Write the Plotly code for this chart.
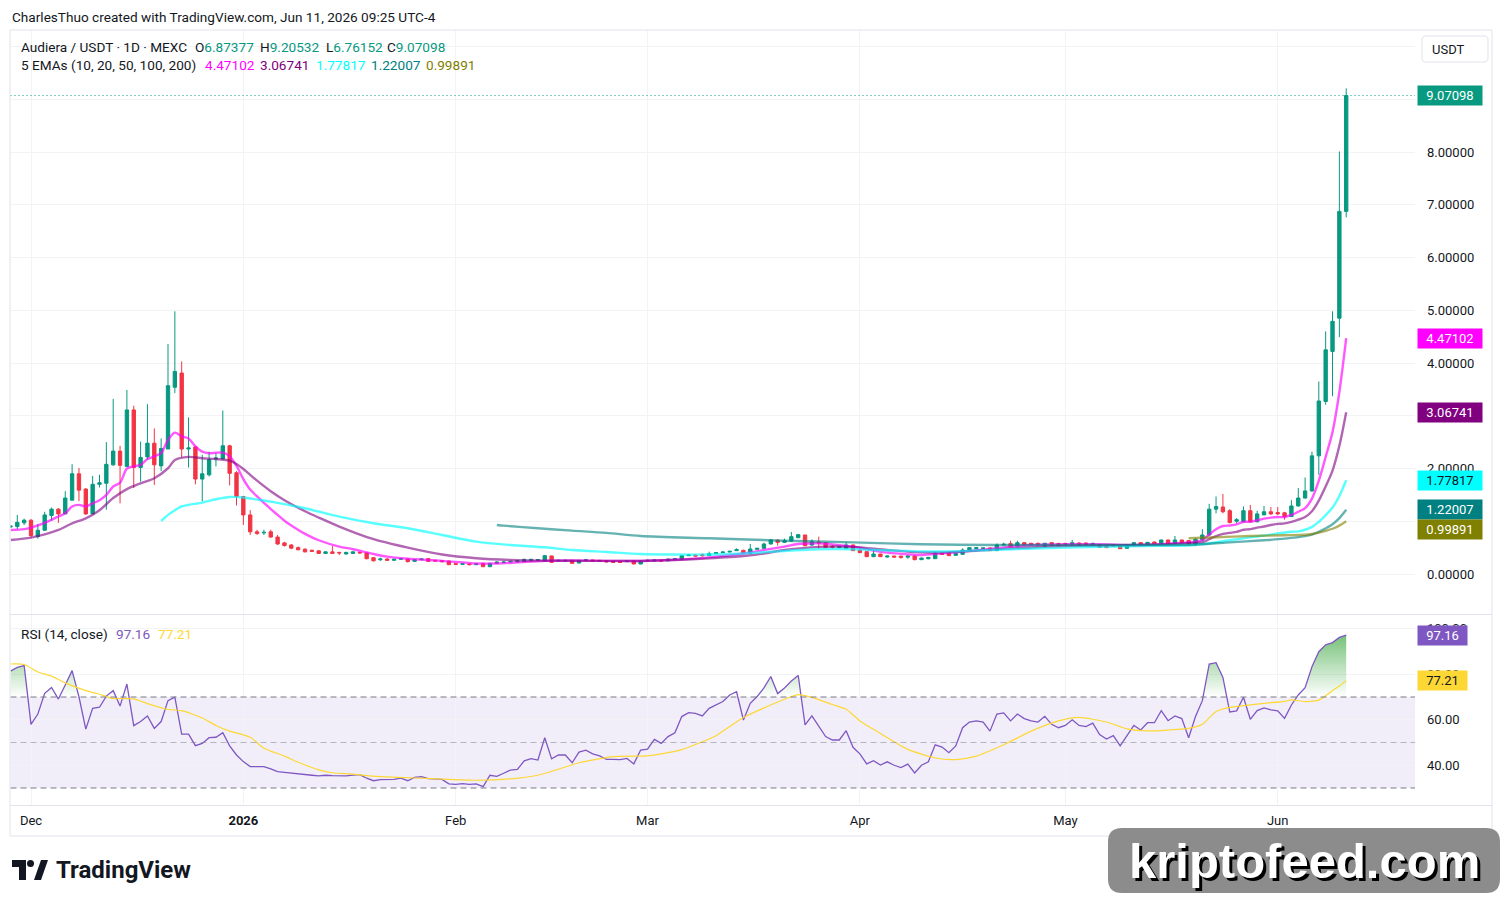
import pandas as pd
import plotly.graph_objects as go

W, H = 1504, 904

# ---------------------------------------------------------------- data
dates = pd.date_range("2025-11-28", "2026-06-11", freq="D")

opens = [
    0.89, 0.90, 0.97,
    1.02, 0.71, 0.83, 1.11, 1.23, 1.14, 1.40, 1.90, 1.61, 1.14, 1.70, 1.72, 2.07, 2.33, 2.04, 3.11,
    2.02, 2.22, 2.48, 2.05, 2.37, 3.54, 3.81, 2.37, 2.41, 1.80, 1.88, 2.18, 2.18, 2.43, 1.92,
    1.47, 1.12, 0.80, 0.78, 0.80, 0.70, 0.59, 0.55, 0.50, 0.47, 0.45, 0.44, 0.39, 0.42, 0.41, 0.38,
    0.39, 0.41, 0.40, 0.31, 0.27, 0.285, 0.26, 0.28, 0.285, 0.24, 0.272, 0.291, 0.259, 0.253, 0.247,
    0.196, 0.183, 0.19, 0.177, 0.202, 0.139, 0.202, 0.215, 0.228, 0.228, 0.234, 0.253, 0.26, 0.24,
    0.342, 0.247, 0.247, 0.259, 0.209, 0.259, 0.266, 0.259, 0.253, 0.24, 0.234, 0.234, 0.247, 0.19,
    0.25, 0.247, 0.259, 0.25, 0.28, 0.278, 0.348, 0.36, 0.367, 0.35, 0.386, 0.405, 0.417, 0.443, 0.449,
    0.392, 0.468, 0.487, 0.569, 0.64, 0.60, 0.626, 0.689, 0.74, 0.55, 0.607, 0.594, 0.525, 0.50, 0.487, 0.55,
    0.455, 0.424, 0.329, 0.379, 0.322, 0.341, 0.34, 0.32, 0.341, 0.272, 0.29, 0.291, 0.392, 0.405, 0.354,
    0.373, 0.436, 0.48, 0.48, 0.494, 0.443, 0.55, 0.575, 0.531, 0.594, 0.582, 0.58, 0.531, 0.594, 0.58,
    0.58, 0.556, 0.588, 0.588, 0.556, 0.556, 0.544, 0.56, 0.544, 0.487, 0.544, 0.594, 0.563, 0.607, 0.582,
    0.645, 0.582, 0.645, 0.633, 0.57, 0.645, 0.74, 1.23, 1.27, 1.20, 1.00, 0.99, 1.20, 0.99, 1.12, 1.18,
    1.165, 1.16, 1.09, 1.29, 1.44, 1.575, 2.24, 3.27, 4.22, 4.85, 6.87377,
]
highs = [
    0.92, 1.12, 1.05,
    1.04, 0.95, 1.18, 1.26, 1.25, 1.57, 2.08, 2.01, 1.63, 1.86, 1.88, 2.50, 3.32, 2.43, 3.49, 3.19,
    2.51, 3.22, 2.76, 2.57, 4.36, 4.98, 4.03, 2.97, 2.41, 2.26, 2.32, 2.29, 3.10, 2.45, 1.95,
    1.47, 1.21, 0.84, 0.84, 0.84, 0.74, 0.61, 0.57, 0.52, 0.49, 0.46, 0.45, 0.43, 0.53, 0.42, 0.42,
    0.43, 0.42, 0.41, 0.32, 0.31, 0.30, 0.29, 0.30, 0.30, 0.28, 0.29, 0.30, 0.27, 0.26, 0.25,
    0.21, 0.20, 0.20, 0.20, 0.21, 0.21, 0.24, 0.24, 0.25, 0.26, 0.29, 0.29, 0.28, 0.36,
    0.35, 0.27, 0.27, 0.265, 0.265, 0.28, 0.27, 0.265, 0.26, 0.25, 0.24, 0.255, 0.255, 0.255,
    0.27, 0.27, 0.27, 0.29, 0.30, 0.36, 0.37, 0.365, 0.39, 0.424, 0.41, 0.42, 0.44, 0.487, 0.46,
    0.569, 0.49, 0.594, 0.664, 0.658, 0.67, 0.797, 0.76, 0.74, 0.658, 0.708, 0.594, 0.55, 0.53, 0.60, 0.56,
    0.46, 0.43, 0.455, 0.385, 0.35, 0.345, 0.345, 0.345, 0.345, 0.31, 0.32, 0.424, 0.42, 0.41, 0.40,
    0.487, 0.51, 0.51, 0.50, 0.50, 0.58, 0.594, 0.632, 0.632, 0.60, 0.59, 0.60, 0.59, 0.60, 0.59,
    0.59, 0.645, 0.60, 0.595, 0.59, 0.565, 0.55, 0.565, 0.55, 0.55, 0.60, 0.60, 0.61, 0.615, 0.65,
    0.65, 0.72, 0.65, 0.64, 0.68, 0.85, 1.33, 1.47, 1.52, 1.23, 1.06, 1.28, 1.31, 1.20, 1.29, 1.27,
    1.27, 1.18, 1.40, 1.63, 1.83, 2.32, 3.65, 4.60, 4.98, 8.01, 9.20532,
]
lows = [
    0.87, 0.85, 0.93,
    0.69, 0.67, 0.82, 1.01, 0.97, 1.14, 1.40, 1.38, 1.12, 1.14, 1.64, 1.22, 2.05, 1.34, 2.04, 1.63,
    1.75, 2.17, 1.69, 1.95, 2.37, 3.43, 2.21, 2.02, 1.70, 1.38, 1.85, 2.04, 2.18, 1.68, 1.30,
    0.93, 0.74, 0.74, 0.74, 0.69, 0.55, 0.52, 0.47, 0.45, 0.41, 0.42, 0.38, 0.38, 0.38, 0.36, 0.37,
    0.38, 0.39, 0.28, 0.24, 0.25, 0.25, 0.25, 0.27, 0.22, 0.23, 0.26, 0.23, 0.24, 0.22, 0.17,
    0.18, 0.17, 0.17, 0.17, 0.13, 0.13, 0.20, 0.21, 0.22, 0.22, 0.23, 0.25, 0.25, 0.24,
    0.21, 0.24, 0.24, 0.20, 0.20, 0.25, 0.24, 0.24, 0.22, 0.215, 0.215, 0.23, 0.185, 0.185,
    0.24, 0.24, 0.24, 0.245, 0.27, 0.275, 0.34, 0.335, 0.33, 0.34, 0.38, 0.40, 0.41, 0.44, 0.39,
    0.39, 0.46, 0.47, 0.56, 0.537, 0.59, 0.61, 0.68, 0.53, 0.537, 0.487, 0.487, 0.48, 0.49, 0.47, 0.44,
    0.40, 0.32, 0.32, 0.32, 0.31, 0.31, 0.29, 0.29, 0.26, 0.265, 0.28, 0.29, 0.37, 0.34, 0.35,
    0.36, 0.43, 0.47, 0.47, 0.44, 0.44, 0.54, 0.515, 0.52, 0.55, 0.55, 0.52, 0.52, 0.54, 0.53,
    0.56, 0.55, 0.545, 0.56, 0.55, 0.50, 0.495, 0.52, 0.475, 0.48, 0.54, 0.555, 0.555, 0.57, 0.575,
    0.57, 0.575, 0.59, 0.56, 0.53, 0.63, 0.72, 1.15, 1.15, 0.96, 0.96, 0.98, 0.98, 0.98, 1.12, 1.12,
    1.12, 1.03, 1.09, 1.28, 1.43, 1.56, 1.88, 3.21, 3.37, 4.49, 6.76152,
]
closes = [
    0.91, 0.98, 1.02,
    0.73, 0.83, 1.12, 1.23, 1.14, 1.44, 1.90, 1.59, 1.14, 1.70, 1.73, 2.08, 2.33, 2.06, 3.11, 2.02,
    2.21, 2.48, 2.07, 2.38, 3.57, 3.84, 2.37, 2.39, 1.80, 1.90, 2.17, 2.20, 2.43, 1.91, 1.47,
    1.12, 0.80, 0.77, 0.79, 0.70, 0.57, 0.54, 0.49, 0.46, 0.42, 0.43, 0.39, 0.42, 0.39, 0.40, 0.41,
    0.42, 0.40, 0.29, 0.25, 0.285, 0.26, 0.28, 0.29, 0.234, 0.272, 0.285, 0.24, 0.247, 0.234, 0.177,
    0.183, 0.196, 0.177, 0.19, 0.139, 0.202, 0.228, 0.228, 0.24, 0.253, 0.278, 0.278, 0.272, 0.348,
    0.221, 0.259, 0.259, 0.202, 0.259, 0.272, 0.247, 0.247, 0.228, 0.221, 0.221, 0.247, 0.19, 0.247,
    0.26, 0.266, 0.247, 0.284, 0.29, 0.348, 0.36, 0.34, 0.348, 0.386, 0.405, 0.417, 0.43, 0.462, 0.392,
    0.474, 0.487, 0.569, 0.645, 0.60, 0.632, 0.708, 0.746, 0.537, 0.613, 0.588, 0.506, 0.506, 0.519, 0.55, 0.443,
    0.405, 0.329, 0.379, 0.329, 0.341, 0.322, 0.316, 0.34, 0.272, 0.303, 0.316, 0.392, 0.373, 0.348, 0.392,
    0.455, 0.50, 0.50, 0.494, 0.443, 0.55, 0.563, 0.519, 0.594, 0.556, 0.556, 0.563, 0.582, 0.544, 0.537,
    0.563, 0.594, 0.55, 0.563, 0.582, 0.506, 0.50, 0.53, 0.48, 0.544, 0.594, 0.563, 0.60, 0.575, 0.645,
    0.575, 0.645, 0.60, 0.57, 0.66, 0.74, 1.23, 1.28, 1.18, 0.975, 1.03, 1.20, 0.99, 1.14, 1.18, 1.14,
    1.14, 1.09, 1.29, 1.44, 1.575, 2.24, 3.28, 4.25, 4.79, 6.874, 9.07098,
]

rsi_vals = [
    81.4, 83.0, 83.8,
    58.0, 62.5, 71.6, 74.2, 69.1, 75.3, 81.6, 70.1, 55.9, 65.0, 65.5, 70.4, 72.8, 66.0, 75.7, 57.4,
    59.2, 61.7, 56.2, 59.2, 68.4, 69.9, 53.7, 53.7, 48.6, 49.6, 52.1, 52.3, 54.3, 48.5, 44.5,
    41.6, 39.4, 39.4, 39.4, 38.4, 37.2, 36.9, 36.5, 36.2, 35.9, 35.6, 35.3, 35.6, 35.4, 35.3, 35.3,
    35.7, 35.9, 34.3, 33.2, 33.7, 33.6, 33.8, 34.3, 33.2, 34.7, 35.0, 34.1, 33.8, 33.8, 31.8,
    31.6, 31.9, 31.6, 31.8, 30.6, 35.6, 35.1, 36.5, 37.9, 38.2, 41.9, 42.9, 42.3, 52.1,
    42.8, 44.5, 44.5, 41.1, 45.8, 46.6, 45.0, 44.1, 42.6, 42.6, 42.5, 43.0, 40.6, 46.7,
    47.1, 51.4, 49.6, 52.6, 54.3, 61.4, 63.1, 62.8, 61.7, 65.0, 66.5, 68.0, 70.9, 72.3, 59.9,
    67.2, 70.2, 74.0, 79.0, 71.5, 74.0, 77.0, 79.5, 57.7, 61.7, 57.3, 52.6, 51.1, 51.1, 55.2, 47.9,
    45.0, 40.6, 42.0, 40.1, 41.5, 40.0, 39.0, 40.5, 36.6, 40.0, 41.5, 49.0, 48.0, 45.5, 48.5,
    56.5, 59.0, 59.5, 59.0, 55.0, 62.5, 63.0, 59.5, 62.5, 60.5, 59.5, 59.0, 61.5, 58.0, 56.5,
    57.5, 60.0, 57.5, 57.0, 58.5, 53.5, 51.5, 53.0, 48.5, 53.0, 57.5, 55.5, 58.7, 58.7, 64.0,
    59.6, 61.7, 60.5, 52.1, 61.4, 68.4, 84.5, 85.1, 78.6, 63.4, 63.9, 69.9, 60.2, 64.0, 65.2, 64.3,
    63.9, 60.6, 66.5, 70.9, 74.1, 83.3, 89.9, 92.9, 93.9, 96.2, 97.16,
]

rsi_ma_dates = [
    "2025-11-28", "2025-11-30", "2025-12-02", "2025-12-04", "2025-12-06", "2025-12-09", "2025-12-11",
    "2025-12-13", "2025-12-16", "2025-12-18", "2025-12-21", "2025-12-23", "2025-12-26", "2025-12-28",
    "2025-12-30", "2026-01-02", "2026-01-04", "2026-01-07", "2026-01-09", "2026-01-12", "2026-01-14",
    "2026-01-17", "2026-01-19", "2026-01-21", "2026-01-26", "2026-01-31", "2026-02-04", "2026-02-09",
    "2026-02-13", "2026-02-15", "2026-02-19", "2026-02-24", "2026-03-01", "2026-03-03", "2026-03-06",
    "2026-03-08", "2026-03-11", "2026-03-13", "2026-03-15", "2026-03-18", "2026-03-20", "2026-03-23",
    "2026-03-25", "2026-03-28", "2026-03-30", "2026-04-01", "2026-04-04", "2026-04-08", "2026-04-12",
    "2026-04-15", "2026-04-18", "2026-04-22", "2026-04-26", "2026-04-30", "2026-05-03", "2026-05-07",
    "2026-05-10", "2026-05-13", "2026-05-16", "2026-05-19", "2026-05-21", "2026-05-23", "2026-05-25",
    "2026-05-28", "2026-05-30", "2026-06-02", "2026-06-03", "2026-06-05", "2026-06-07", "2026-06-09",
    "2026-06-10", "2026-06-11",
]
rsi_ma_vals = [
    84.5, 84.3, 81.0, 79.2, 76.2, 72.8, 71.2, 69.3, 69.2, 67.1, 64.5, 64.0, 60.8, 57.5, 55.0,
    52.3, 47.5, 44.0, 41.3, 38.0, 36.7, 36.1, 35.4, 35.0, 34.4, 33.8,
    33.4, 34.0, 35.6, 37.3, 41.1, 43.8,
    44.1, 45.0, 46.9, 49.1, 53.0, 57.0, 61.0, 65.2, 67.8, 71.0, 69.8, 66.7, 64.6,
    59.5, 54.0, 47.0, 43.2, 42.5, 44.0, 49.0, 55.0, 59.5,
    61.0, 59.0, 56.0, 55.1, 55.5, 56.2, 58.0, 63.6, 65.4, 66.5, 67.2,
    68.1, 68.7, 68.0, 68.6, 72.8, 74.8, 77.21,
]

ema10_dates = [
    "2025-11-28", "2025-11-30", "2025-12-01", "2025-12-03", "2025-12-05", "2025-12-06", "2025-12-07",
    "2025-12-08", "2025-12-09", "2025-12-10", "2025-12-11", "2025-12-12", "2025-12-13", "2025-12-14",
    "2025-12-15", "2025-12-16", "2025-12-17", "2025-12-18", "2025-12-19", "2025-12-20", "2025-12-21",
    "2025-12-22", "2025-12-23", "2025-12-24", "2025-12-25", "2025-12-26", "2025-12-27", "2025-12-28",
    "2025-12-29", "2025-12-30", "2025-12-31", "2026-01-01", "2026-01-02", "2026-01-03", "2026-01-04",
    "2026-01-05", "2026-01-06", "2026-01-07", "2026-01-08", "2026-01-10", "2026-01-12", "2026-01-15",
    "2026-01-17", "2026-01-20", "2026-01-22", "2026-01-25", "2026-01-30", "2026-02-04", "2026-02-07",
    "2026-02-10", "2026-02-14", "2026-02-18", "2026-02-23", "2026-02-28", "2026-03-05", "2026-03-10",
    "2026-03-15", "2026-03-18", "2026-03-21", "2026-03-23", "2026-03-26", "2026-03-28", "2026-03-31",
    "2026-04-03", "2026-04-05", "2026-04-08", "2026-04-10", "2026-04-13", "2026-04-16", "2026-04-21",
    "2026-04-26", "2026-05-01", "2026-05-06", "2026-05-12", "2026-05-17", "2026-05-20", "2026-05-21",
    "2026-05-22", "2026-05-23", "2026-05-24", "2026-05-25", "2026-05-26", "2026-05-27", "2026-05-28",
    "2026-05-29", "2026-05-30", "2026-05-31", "2026-06-01", "2026-06-02", "2026-06-03", "2026-06-04",
    "2026-06-05", "2026-06-06", "2026-06-07", "2026-06-08", "2026-06-09", "2026-06-10", "2026-06-11",
]
ema10_vals = [
    0.835, 0.85, 0.88, 0.97, 1.09, 1.15, 1.28, 1.31, 1.28, 1.34, 1.40, 1.50, 1.66, 1.73, 2.00, 2.04,
    2.07, 2.18, 2.23, 2.29, 2.54, 2.68, 2.61, 2.57, 2.42, 2.32, 2.29, 2.30, 2.30, 2.23, 2.05,
    1.80, 1.60, 1.47, 1.35, 1.23, 1.12, 1.01, 0.92, 0.76, 0.64, 0.52, 0.47, 0.38, 0.33, 0.29, 0.25,
    0.20, 0.20, 0.22, 0.25, 0.255, 0.25, 0.247,
    0.27, 0.316, 0.39, 0.455, 0.52, 0.569, 0.582, 0.563, 0.519,
    0.443, 0.405, 0.373, 0.36, 0.392, 0.424, 0.49, 0.55,
    0.563, 0.563, 0.55, 0.582, 0.614, 0.64, 0.75, 0.85, 0.91, 0.92, 0.94, 0.99, 0.99, 1.02, 1.05, 1.07,
    1.08, 1.08, 1.12, 1.18, 1.25, 1.43, 1.77, 2.22, 2.69, 3.45, 4.47102,
]

ema20_dates = [
    "2025-11-28", "2025-12-01", "2025-12-03", "2025-12-05", "2025-12-07", "2025-12-09", "2025-12-11",
    "2025-12-13", "2025-12-15", "2025-12-17", "2025-12-19", "2025-12-21", "2025-12-22", "2025-12-24",
    "2025-12-26", "2025-12-28", "2025-12-30", "2025-12-31", "2026-01-01", "2026-01-02", "2026-01-03",
    "2026-01-05", "2026-01-07", "2026-01-10", "2026-01-12", "2026-01-15", "2026-01-20", "2026-01-25",
    "2026-01-30", "2026-02-04", "2026-02-09", "2026-02-14", "2026-02-20", "2026-02-28", "2026-03-05",
    "2026-03-10", "2026-03-15", "2026-03-18", "2026-03-21", "2026-03-26", "2026-03-31", "2026-04-05",
    "2026-04-10", "2026-04-16", "2026-04-21", "2026-05-01", "2026-05-12", "2026-05-20", "2026-05-21",
    "2026-05-22", "2026-05-23", "2026-05-24", "2026-05-25", "2026-05-26", "2026-05-27", "2026-05-28",
    "2026-05-29", "2026-05-30", "2026-05-31", "2026-06-01", "2026-06-02", "2026-06-03", "2026-06-04",
    "2026-06-05", "2026-06-06", "2026-06-07", "2026-06-08", "2026-06-09", "2026-06-10", "2026-06-11",
]
ema20_vals = [
    0.645, 0.69, 0.75, 0.835, 0.96, 1.056, 1.21, 1.44, 1.61, 1.72, 1.815, 2.005, 2.16, 2.22, 2.195,
    2.18, 2.15, 2.085, 1.99, 1.88, 1.77, 1.57, 1.40, 1.19, 1.07, 0.90, 0.66, 0.50, 0.37,
    0.30, 0.266, 0.253, 0.25, 0.247, 0.265, 0.297, 0.341, 0.39, 0.455, 0.515, 0.515,
    0.455, 0.41, 0.424, 0.468, 0.531, 0.55, 0.59, 0.60, 0.66, 0.72, 0.76, 0.78, 0.80, 0.84, 0.85,
    0.88, 0.90, 0.93, 0.95, 0.96, 0.99, 1.03, 1.08, 1.19, 1.39, 1.66, 1.96, 2.43, 3.06741,
]

ema50_dates = [
    "2025-12-20", "2025-12-21", "2025-12-22", "2025-12-23", "2025-12-24", "2025-12-26", "2025-12-28",
    "2025-12-30", "2026-01-01", "2026-01-03", "2026-01-05", "2026-01-10", "2026-01-15", "2026-01-20",
    "2026-01-25", "2026-01-30", "2026-02-04", "2026-02-09", "2026-02-14", "2026-02-18", "2026-02-23",
    "2026-02-28", "2026-03-05", "2026-03-10", "2026-03-15", "2026-03-20", "2026-03-26", "2026-03-31",
    "2026-04-05", "2026-04-10", "2026-04-15", "2026-04-21", "2026-05-01", "2026-05-12", "2026-05-20",
    "2026-05-25", "2026-05-30", "2026-06-03", "2026-06-04", "2026-06-05", "2026-06-06", "2026-06-07",
    "2026-06-08", "2026-06-09", "2026-06-10", "2026-06-11",
]
ema50_vals = [
    1.005, 1.12, 1.21, 1.28, 1.31, 1.353, 1.417, 1.46, 1.45, 1.41, 1.373, 1.246, 1.088, 0.962,
    0.867, 0.74, 0.614, 0.55, 0.506, 0.455, 0.418, 0.38, 0.37, 0.37, 0.39, 0.43, 0.47, 0.47,
    0.45, 0.43, 0.43, 0.46, 0.50, 0.53, 0.55, 0.64, 0.73, 0.80, 0.809, 0.839, 0.894, 0.988,
    1.116, 1.26, 1.48, 1.77817,
]

ema100_dates = [
    "2026-02-07", "2026-02-08", "2026-02-13", "2026-02-18", "2026-02-23", "2026-02-28", "2026-03-10",
    "2026-03-21", "2026-03-31", "2026-04-10", "2026-04-21", "2026-05-01", "2026-05-12", "2026-05-20",
    "2026-05-25", "2026-05-30", "2026-06-02", "2026-06-05", "2026-06-06", "2026-06-07", "2026-06-08",
    "2026-06-09", "2026-06-10", "2026-06-11",
]
ema100_vals = [
    0.93, 0.917, 0.867, 0.822, 0.78, 0.72, 0.677, 0.632, 0.60, 0.563, 0.55, 0.55, 0.55, 0.56,
    0.60, 0.64, 0.67, 0.718, 0.748, 0.798, 0.866, 0.944, 1.061, 1.22007,
]

ema200_dates = [
    "2026-05-19", "2026-05-23", "2026-05-28", "2026-06-02", "2026-06-05", "2026-06-06", "2026-06-07",
    "2026-06-08", "2026-06-09", "2026-06-10", "2026-06-11",
]
ema200_vals = [0.677, 0.696, 0.72, 0.735, 0.744, 0.759, 0.784, 0.818, 0.858, 0.918, 0.99891]

month_ticks = ["2025-12-01", "2026-01-01", "2026-02-01", "2026-03-01", "2026-04-01", "2026-05-01", "2026-06-01"]
month_labels = ["Dec", "<b>2026</b>", "Feb", "Mar", "Apr", "May", "Jun"]
price_ticks = [0, 1, 2, 3, 4, 5, 6, 7, 8, 9, 10]
price_hidden = [1, 3, 9, 10]          # covered by value labels in the original
rsi_ticks = [40, 60, 80, 100]
RSI_UPPER, RSI_MID, RSI_LOWER = 70, 50, 30

n = len(dates)
for arr in (opens, highs, lows, closes, rsi_vals):
    assert len(arr) == n, len(arr)
for a, b in ((ema10_dates, ema10_vals), (ema20_dates, ema20_vals), (ema50_dates, ema50_vals),
             (ema100_dates, ema100_vals), (ema200_dates, ema200_vals), (rsi_ma_dates, rsi_ma_vals)):
    assert len(a) == len(b), (len(a), len(b))

# ---------------------------------------------------------------- style
UP, DOWN = "#089981", "#F23645"
C10, C20, C50, C100, C200 = "#FF00FF", "#800080", "#00FFFF", "#008080", "#808000"
RSI_C, MA_C = "#7E57C2", "#FDD835"
TXT = "#131722"
GRID = "#F2F3F6"
BORDER = "#E0E3EB"
FONT = "Roboto, 'Noto Sans', sans-serif"
LEG = 13.6


def px(x):
    return x / W


def py(y):
    return 1 - y / H


X_RANGE = ["2025-11-28 00:10", "2026-06-21 01:00"]
PLOT_L, PLOT_R = 10.5, 1415
PRICE_TOP, PRICE_BOT = 31, 614
RSI_TOP, RSI_BOT = 615, 805

fig = go.Figure()

fig.add_trace(go.Candlestick(
    x=dates, open=opens, high=highs, low=lows, close=closes,
    increasing=dict(line=dict(color=UP, width=1), fillcolor=UP),
    decreasing=dict(line=dict(color=DOWN, width=1), fillcolor=DOWN),
    whiskerwidth=0, hoverinfo="skip", xaxis="x", yaxis="y",
))

for d, v, c, op in ((ema10_dates, ema10_vals, C10, 0.65), (ema20_dates, ema20_vals, C20, 0.6),
                    (ema50_dates, ema50_vals, C50, 0.65), (ema100_dates, ema100_vals, C100, 0.6),
                    (ema200_dates, ema200_vals, C200, 0.6)):
    fig.add_trace(go.Scatter(x=d, y=v, mode="lines", opacity=op, hoverinfo="skip",
                             line=dict(color=c, width=2.4, shape="spline", smoothing=0.8),
                             xaxis="x", yaxis="y"))

# RSI pane: invisible level line used as fill base for the overbought gradient
fig.add_trace(go.Scatter(x=dates, y=[RSI_UPPER] * n, mode="lines", line=dict(width=0),
                         hoverinfo="skip", xaxis="x2", yaxis="y2"))
fig.add_trace(go.Scatter(
    x=dates, y=rsi_vals, mode="lines", line=dict(color=RSI_C, width=1.3),
    fill="tonexty",
    fillgradient=dict(type="vertical", start=RSI_UPPER, stop=100,
                      colorscale=[[0, "rgba(76,175,80,0)"], [1, "rgba(76,175,80,0.85)"]]),
    hoverinfo="skip", xaxis="x2", yaxis="y2"))
fig.add_trace(go.Scatter(x=rsi_ma_dates, y=rsi_ma_vals, mode="lines",
                         line=dict(color=MA_C, width=1.2, shape="spline", smoothing=0.6),
                         hoverinfo="skip", xaxis="x2", yaxis="y2"))

# ---------------------------------------------------------------- shapes


def rr_path(x0, y0, x1, y1, r):
    def P(x, y):
        return f"{px(x):.6f},{py(y):.6f}"
    return (f"M {P(x0 + r, y0)} L {P(x1 - r, y0)} Q {P(x1, y0)} {P(x1, y0 + r)} "
            f"L {P(x1, y1 - r)} Q {P(x1, y1)} {P(x1 - r, y1)} L {P(x0 + r, y1)} "
            f"Q {P(x0, y1)} {P(x0, y1 - r)} L {P(x0, y0 + r)} Q {P(x0, y0)} {P(x0 + r, y0)} Z")


def poly(points):
    return "M " + " L ".join(f"{px(x):.6f},{py(y):.6f}" for x, y in points) + " Z"


shapes = [
    dict(type="rect", xref="x2 domain", yref="y2", x0=0, x1=1, y0=RSI_LOWER, y1=RSI_UPPER,
         fillcolor="rgba(126,87,194,0.1)", line=dict(width=0), layer="below"),
]
for lvl, col in ((RSI_UPPER, "#787B86"), (RSI_MID, "rgba(120,123,134,0.5)"), (RSI_LOWER, "#787B86")):
    shapes.append(dict(type="line", xref="x2 domain", yref="y2", x0=0, x1=1, y0=lvl, y1=lvl,
                       line=dict(color=col, width=1, dash="6px,4px")))
shapes += [
    dict(type="line", xref="x domain", yref="y", x0=0, x1=1, y0=closes[-1], y1=closes[-1],
         line=dict(color=UP, width=1, dash="1px,3px")),
    dict(type="rect", xref="paper", yref="paper", x0=px(10), x1=px(1492), y0=py(836), y1=py(30),
         line=dict(color=BORDER, width=1), fillcolor="rgba(0,0,0,0)"),
    dict(type="line", xref="paper", yref="paper", x0=px(10), x1=px(1492), y0=py(614.5), y1=py(614.5),
         line=dict(color=BORDER, width=1)),
    dict(type="line", xref="paper", yref="paper", x0=px(10), x1=px(1492), y0=py(805.5), y1=py(805.5),
         line=dict(color=BORDER, width=1)),
    dict(type="path", xref="paper", yref="paper", path=rr_path(1422, 36, 1488, 62, 4),
         line=dict(color=BORDER, width=1), fillcolor="white"),
    # TradingView logo
    dict(type="path", xref="paper", yref="paper",
         path=poly([(12, 860), (26, 860), (26, 880), (19, 880), (19, 867), (12, 867)]),
         fillcolor=TXT, line=dict(width=0)),
    dict(type="circle", xref="paper", yref="paper", x0=px(27), x1=px(34), y0=py(867), y1=py(860),
         fillcolor=TXT, line=dict(width=0)),
    dict(type="path", xref="paper", yref="paper",
         path=poly([(34, 880), (41, 860), (48, 860), (41, 880)]),
         fillcolor=TXT, line=dict(width=0)),
    # watermark box
    dict(type="path", xref="paper", yref="paper", path=rr_path(1108, 828, 1500, 893, 14),
         fillcolor="#8C8C8C", line=dict(width=0)),
]

# ---------------------------------------------------------------- annotations
ann = []


def text(x, y, s, size=LEG, color=TXT, anchor="left", **kw):
    ann.append(dict(x=px(x), y=py(y), xref="paper", yref="paper", text=s, showarrow=False,
                    xanchor=anchor, yanchor="middle",
                    font=dict(family=FONT, size=size, color=color), **kw))


def vlabel(yval, s, bg, fg, yref="y", width=60, yshift=0):
    ann.append(dict(x=px(1417), y=yval, xref="paper", yref=yref, text=s, showarrow=False,
                    xanchor="left", yanchor="middle", bgcolor=bg, width=width, height=15,
                    borderpad=2, yshift=yshift, font=dict(family=FONT, size=13, color=fg)))


def span(s, c):
    return f'<span style="color:{c}">{s}</span>'


text(10, 17, "CharlesThuo created with TradingView.com, Jun 11, 2026 09:25 UTC-4")
text(19, 47, "Audiera / USDT · 1D · MEXC")
text(193, 47, "O" + span(f"{opens[-1]:.5f}", UP))
text(258, 47, "H" + span(f"{highs[-1]:.5f}", UP))
text(324, 47, "L" + span(f"{lows[-1]:.5f}", UP))
text(385, 47, "C" + span(f"{closes[-1]:.5f}", UP))
text(19, 65, "5 EMAs (10, 20, 50, 100, 200)")
for xx, vals, c in ((203, ema10_vals, C10), (258, ema20_vals, C20), (314, ema50_vals, C50),
                    (369, ema100_vals, C100), (424, ema200_vals, C200)):
    text(xx, 65, f"{vals[-1]:.5f}", color=c)
text(19, 634, "RSI (14, close)")
text(114, 634, f"{rsi_vals[-1]:.2f}", color=RSI_C)
text(156, 634, f"{rsi_ma_vals[-1]:.2f}", color=MA_C)
text(1448, 49, "USDT", size=13, anchor="center")

vlabel(closes[-1], f"{closes[-1]:.5f}", UP, "white")
vlabel(ema10_vals[-1], f"{ema10_vals[-1]:.5f}", C10, "white")
vlabel(ema20_vals[-1], f"{ema20_vals[-1]:.5f}", C20, "white")
vlabel(ema50_vals[-1], f"{ema50_vals[-1]:.5f}", C50, TXT)
vlabel(ema100_vals[-1], f"{ema100_vals[-1]:.5f}", C100, "white")
vlabel(ema200_vals[-1], f"{ema200_vals[-1]:.5f}", C200, "white", yshift=-8)
vlabel(rsi_vals[-1], f"{rsi_vals[-1]:.2f}", RSI_C, "white", yref="y2", width=45)
vlabel(rsi_ma_vals[-1], f"{rsi_ma_vals[-1]:.2f}", MA_C, TXT, yref="y2", width=45)

ann.append(dict(x=px(54), y=py(870), xref="paper", yref="paper", text="<b>TradingView</b>",
                showarrow=False, xanchor="left", yanchor="middle",
                font=dict(family=FONT, size=24, color=TXT)))
ann.append(dict(x=px(1304), y=py(861), xref="paper", yref="paper", text="<b>kriptofeed.com</b>",
                showarrow=False, xanchor="center", yanchor="middle",
                font=dict(family="Liberation Sans, Arial, sans-serif", size=49, color="white",
                          shadow="3px 3px 0px #000000")))

# ---------------------------------------------------------------- layout
axis_common = dict(showline=False, zeroline=False, ticks="", fixedrange=True)
fig.update_layout(
    width=W, height=H, margin=dict(l=0, r=0, t=0, b=0), autosize=False,
    paper_bgcolor="white", plot_bgcolor="white", showlegend=False, hovermode=False,
    font=dict(family=FONT, size=13, color=TXT),
    xaxis=dict(domain=[px(PLOT_L), px(PLOT_R)], range=X_RANGE, type="date", anchor="y",
               tickvals=month_ticks, showticklabels=False, showgrid=True, gridcolor=GRID,
               rangeslider=dict(visible=False), **axis_common),
    yaxis=dict(domain=[py(PRICE_BOT), py(PRICE_TOP)], range=[-0.758, 10.294], anchor="x",
               side="right", tickvals=price_ticks,
               ticktext=["" if v in price_hidden else f"{v:.5f}" for v in price_ticks],
               showgrid=True, gridcolor=GRID, ticklabelstandoff=11,
               tickfont=dict(family=FONT, size=13, color=TXT), **axis_common),
    xaxis2=dict(domain=[px(PLOT_L), px(PLOT_R)], range=X_RANGE, type="date", anchor="y2",
                tickvals=month_ticks, ticktext=month_labels, showgrid=True, gridcolor=GRID,
                ticklabelstandoff=6, tickfont=dict(family=FONT, size=13, color=TXT), **axis_common),
    yaxis2=dict(domain=[py(RSI_BOT), py(RSI_TOP)], range=[22.53, 106.04], anchor="x2",
                side="right", tickvals=rsi_ticks, ticktext=[f"{v:.2f}" for v in rsi_ticks],
                showgrid=True, gridcolor=GRID, ticklabelstandoff=11,
                tickfont=dict(family=FONT, size=13, color=TXT), **axis_common),
    shapes=shapes, annotations=ann,
)

fig.write_html("out.html")
